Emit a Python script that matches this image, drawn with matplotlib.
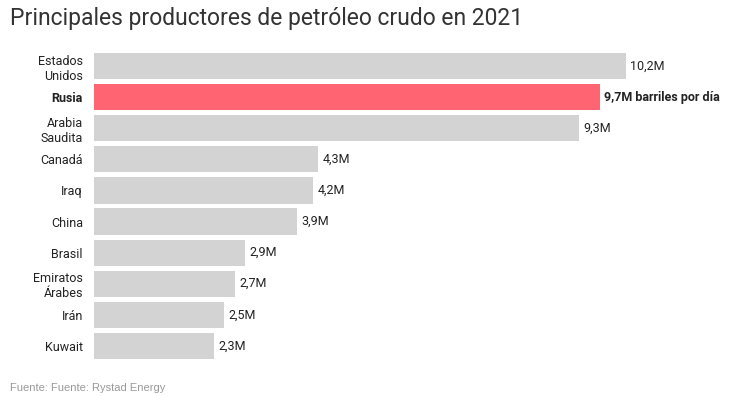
import matplotlib.pyplot as plt

paises = ["Estados\nUnidos", "Rusia", "Arabia\nSaudita", "Canadá", "Iraq", "China",
          "Brasil", "Emiratos\nÁrabes", "Irán", "Kuwait"]
produccion = [10.2, 9.7, 9.3, 4.3, 4.2, 3.9, 2.9, 2.7, 2.5, 2.3]
etiquetas = ["10,2M", "9,7M barriles por día", "9,3M", "4,3M", "4,2M", "3,9M",
             "2,9M", "2,7M", "2,5M", "2,3M"]
destacado = "Rusia"

GRIS = "#d3d3d3"
ROJO = "#ff6472"
TEXTO = "#222222"

plt.rcParams["font.family"] = ["Roboto", "DejaVu Sans"]

fig = plt.figure(figsize=(7.3, 3.96), dpi=100)
ax = fig.add_axes([94 / 730, 1 - 361.5 / 396, 626 / 730, 311 / 396])

colores = [ROJO if p == destacado else GRIS for p in paises]
y = range(len(paises))
ax.barh(y, produccion, height=0.84, color=colores)

for i, (v, txt, p) in enumerate(zip(produccion, etiquetas, paises)):
    ax.text(v + 0.08, i, txt, va="center", ha="left", fontsize=9, color=TEXTO,
            fontweight="bold" if p == destacado else "normal")

ax.set_xlim(0, 12)
ax.set_ylim(len(paises) - 0.5, -0.5)
ax.set_yticks(list(y))
ax.set_yticklabels(paises, fontsize=9, color=TEXTO, linespacing=1.2)
for lbl in ax.get_yticklabels():
    if lbl.get_text() == destacado:
        lbl.set_fontweight("bold")
ax.tick_params(axis="y", length=0, pad=8)
ax.set_xticks([])
for s in ax.spines.values():
    s.set_visible(False)

fig.text(10 / 730, 1 - 18 / 396, "Principales productores de petróleo crudo en 2021",
         fontsize=16.5, color="#333333", va="center", ha="left")
fig.text(10 / 730, 1 - 388 / 396, "Fuente: Fuente: Rystad Energy",
         fontsize=8, color="#999999", va="center", ha="left",
         family=["Liberation Sans", "DejaVu Sans"])

fig.savefig("out.png", dpi=100)
